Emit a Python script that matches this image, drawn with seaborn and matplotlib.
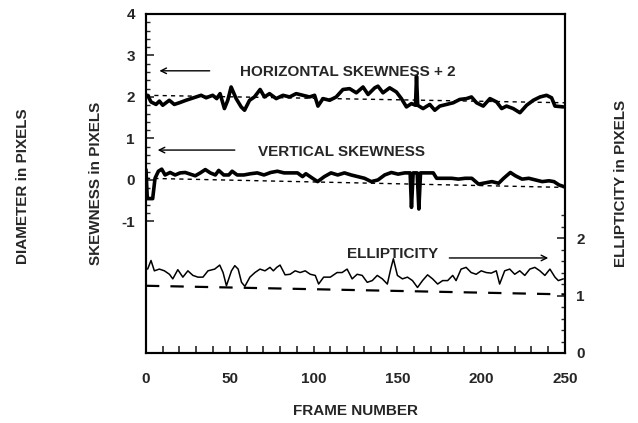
import numpy as np
import pandas as pd
import matplotlib
matplotlib.use('Agg')
import matplotlib.pyplot as plt
import seaborn as sns
from matplotlib.ticker import FixedLocator

# Horizontal skewness + 2 (left axis)
h_frame = [1.0, 3.0, 6.0, 8.0, 10.0, 13.9, 16.9, 19.9, 23.9, 26.9, 29.9, 32.9, 35.9, 39.8,
           42.2, 44.2, 46.8, 48.8, 50.8, 53.8, 56.8, 58.8, 61.8, 64.7, 68.1, 70.7, 73.7,
           77.7, 81.7, 85.7, 89.6, 93.6, 97.6, 100.6, 102.6, 105.6, 109.6, 113.5, 117.5,
           121.5, 125.5, 129.5, 132.5, 136.5, 138.4, 141.4, 145.4, 149.4, 152.4, 155.4,
           158.4, 160.8, 161.4, 162.1, 165.3, 169.3, 172.3, 175.3, 179.3, 183.3, 187.2,
           191.2, 194.2, 197.2, 201.2, 205.2, 209.2, 212.2, 215.1, 219.1, 223.1, 227.1,
           231.1, 235.1, 239.0, 242.0, 244.0, 249.0]
h_skew = [2.04, 1.88, 1.82, 1.90, 1.80, 1.92, 1.82, 1.86, 1.92, 1.96, 2.00, 2.04, 1.98, 2.04,
          1.96, 2.08, 1.72, 1.92, 2.24, 1.96, 1.76, 1.68, 1.92, 2.00, 2.18, 2.00, 2.08,
          1.96, 2.04, 2.00, 2.08, 2.04, 2.00, 2.04, 1.78, 1.96, 1.92, 2.00, 2.18,
          2.20, 2.10, 2.24, 2.06, 2.22, 2.26, 2.10, 2.22, 2.12, 1.96, 1.76,
          1.84, 1.80, 2.50, 1.80, 1.72, 1.82, 1.68, 1.78, 1.82, 1.86, 1.94,
          1.96, 2.00, 1.86, 1.78, 1.96, 1.88, 1.72, 1.78, 1.72, 1.62, 1.80,
          1.92, 2.00, 2.04, 1.98, 1.78, 1.76]
h_trend = [2.04, 1.86]

# Vertical skewness (left axis)
v_frame = [0.0, 0.8, 4.0, 5.4, 7.4, 9.4, 11.4, 14.4, 17.4, 20.4, 23.4, 26.4, 29.4, 32.4,
           35.4, 38.4, 41.4, 43.4, 46.4, 49.4, 51.4, 54.4, 58.4, 62.4, 66.4, 70.4, 74.4,
           78.4, 82.4, 86.4, 90.4, 93.4, 95.4, 99.4, 102.4, 106.4, 110.4, 114.4, 118.4,
           122.4, 126.4, 130.4, 134.4, 138.4, 142.4, 146.4, 150.4, 154.4, 157.6, 158.4,
           159.4, 161.8, 162.8, 163.8, 168.4, 171.4, 173.4, 178.4, 182.4, 186.4, 190.4,
           194.4, 198.4, 202.4, 206.4, 210.4, 213.4, 217.4, 220.4, 224.4, 228.4, 232.4,
           236.4, 240.4, 243.4, 246.4, 250.0]
v_skew = [0.25, -0.45, -0.45, 0.04, 0.21, 0.26, 0.12, 0.18, 0.12, 0.17, 0.18, 0.14, 0.10, 0.17,
          0.25, 0.17, 0.12, 0.23, 0.12, 0.12, 0.21, 0.12, 0.12, 0.15, 0.17, 0.12, 0.18,
          0.21, 0.17, 0.17, 0.17, 0.08, 0.15, 0.04, -0.04, 0.08, 0.17, 0.12, 0.17,
          0.12, 0.08, 0.04, -0.04, 0.00, 0.12, 0.18, 0.14, 0.17, 0.17, -0.66,
          0.17, 0.17, -0.70, 0.17, 0.17, 0.17, 0.04, 0.04, 0.04, 0.02, 0.04,
          0.04, -0.10, -0.07, -0.04, -0.08, 0.04, 0.18, 0.10, 0.02, 0.04, 0.00,
          -0.04, -0.02, -0.04, -0.12, -0.17]
v_trend = [0.04, -0.18]

# Ellipticity (right axis)
e_frame = [1, 3, 5, 8, 11, 14, 16, 19, 22, 25, 28, 31, 34, 37, 41, 44, 46, 48, 51, 53, 55,
           57, 59, 62, 65, 68, 71, 74, 76, 78, 80, 83, 86, 89, 92, 95, 98, 101, 103, 106,
           110, 114, 117, 120, 123, 126, 129, 132, 135, 138, 141, 144, 146, 147.6, 150,
           153, 156, 159, 162, 165, 168, 171, 174, 177, 180, 183, 185, 188, 191, 194, 197,
           200, 203, 206, 209, 211, 214, 217, 220, 223, 226, 229, 232, 235, 238, 241, 244,
           246, 249]
ellip = [1.46, 1.61, 1.43, 1.46, 1.43, 1.37, 1.29, 1.45, 1.32, 1.43, 1.35, 1.32, 1.32, 1.43,
         1.46, 1.53, 1.40, 1.17, 1.43, 1.52, 1.46, 1.23, 1.16, 1.32, 1.40, 1.46, 1.43, 1.49,
         1.43, 1.49, 1.53, 1.36, 1.37, 1.43, 1.40, 1.43, 1.37, 1.35, 1.20, 1.32, 1.32, 1.40,
         1.40, 1.46, 1.29, 1.37, 1.35, 1.23, 1.26, 1.35, 1.29, 1.20, 1.46, 1.64, 1.35, 1.29,
         1.32, 1.26, 1.14, 1.26, 1.36, 1.29, 1.20, 1.26, 1.26, 1.35, 1.26, 1.46, 1.49, 1.40,
         1.37, 1.43, 1.40, 1.39, 1.43, 1.20, 1.43, 1.46, 1.37, 1.43, 1.35, 1.46, 1.49, 1.43,
         1.35, 1.46, 1.32, 1.26, 1.29]
e_trend = [1.17, 1.02]

trend_frame = [0, 250]
x_ticks = [0, 50, 100, 150, 200, 250]
left_ticks = [-1, 0, 1, 2, 3, 4]
right_ticks = [0, 1, 2]

sns.set_style('ticks')
plt.rcParams['font.family'] = ['Liberation Sans', 'DejaVu Sans']
plt.rcParams['font.weight'] = 'bold'

fig = plt.figure(figsize=(6.38, 4.23), dpi=100)
ax = fig.add_axes([0.2288, 0.1655, 0.6568, 0.8015])
ax2 = ax.twinx()

h_df = pd.DataFrame({'frame': h_frame, 'value': h_skew})
v_df = pd.DataFrame({'frame': v_frame, 'value': v_skew})
e_df = pd.DataFrame({'frame': e_frame, 'value': ellip})

sns.lineplot(data=h_df, x='frame', y='value', ax=ax, color='black', lw=2.6, sort=False)
sns.lineplot(data=v_df, x='frame', y='value', ax=ax, color='black', lw=2.6, sort=False)
sns.lineplot(x=trend_frame, y=h_trend, ax=ax, color='black', lw=1.0,
             linestyle=(0, (3, 3)))
sns.lineplot(x=trend_frame, y=v_trend, ax=ax, color='black', lw=1.0,
             linestyle=(0, (3, 3)))

sns.lineplot(data=e_df, x='frame', y='value', ax=ax2, color='black', lw=1.1, sort=False)
sns.lineplot(x=trend_frame, y=e_trend, ax=ax2, color='black', lw=1.6,
             linestyle=(0, (6, 5)))

ax.set_xlim(0, 250)
ax.set_ylim(-4.17, 4.0)
ax2.set_ylim(0, 5.9)

ax.set_xticks(x_ticks)
ax.set_xticklabels([str(t) for t in x_ticks])
ax.xaxis.set_minor_locator(FixedLocator(np.arange(0, 251, 10)))
ax.set_yticks(left_ticks)
ax.set_yticklabels([str(t) for t in left_ticks])
ax.yaxis.set_minor_locator(FixedLocator(np.arange(-1, 4.01, 0.2)))
ax2.set_yticks(right_ticks)
ax2.set_yticklabels([str(t) for t in right_ticks])
ax2.yaxis.set_minor_locator(FixedLocator(np.arange(0, 2.41, 0.2)))

ax.tick_params(axis='x', which='both', direction='in', length=5, width=1.2,
               pad=14, labelsize=11)
ax.tick_params(axis='y', which='major', direction='in', length=6, width=1.2,
               pad=8, labelsize=11)
ax.tick_params(axis='y', which='minor', direction='in', length=3, width=1)
ax2.tick_params(axis='y', which='major', direction='in', length=6, width=1.2,
                pad=8, labelsize=11)
ax2.tick_params(axis='y', which='minor', direction='in', length=3, width=1)

for a in (ax, ax2):
    for s in a.spines.values():
        s.set_visible(True)
        s.set_linewidth(1.5)
        s.set_color('black')

ax.set_xlabel('FRAME NUMBER', fontsize=11, fontweight='bold', labelpad=13)
ax.set_ylabel('SKEWNESS in PIXELS', fontsize=11, fontweight='bold', labelpad=13)
ax2.set_ylabel('ELLIPTICITY in PIXELS', fontsize=11, fontweight='bold', labelpad=21)
fig.text(0.036, 0.56, 'DIAMETER in PIXELS', rotation=90, fontsize=11,
         fontweight='bold', ha='center', va='center')

arrow = dict(arrowstyle='->', lw=1.0, color='black', shrinkA=0, shrinkB=0)
ax.annotate('', xy=(8, 2.63), xytext=(38, 2.63), arrowprops=arrow)
ax.text(56, 2.6, 'HORIZONTAL SKEWNESS + 2', fontsize=11, fontweight='bold',
        va='center', ha='left')
ax.annotate('', xy=(7, 0.72), xytext=(53, 0.72), arrowprops=arrow)
ax.text(67, 0.68, 'VERTICAL SKEWNESS', fontsize=11, fontweight='bold',
        va='center', ha='left')
ax.text(120, -1.78, 'ELLIPTICITY', fontsize=11, fontweight='bold',
        va='center', ha='left')
ax.annotate('', xy=(240, -1.88), xytext=(181, -1.88), arrowprops=arrow)

fig.savefig('out.png', dpi=100)
